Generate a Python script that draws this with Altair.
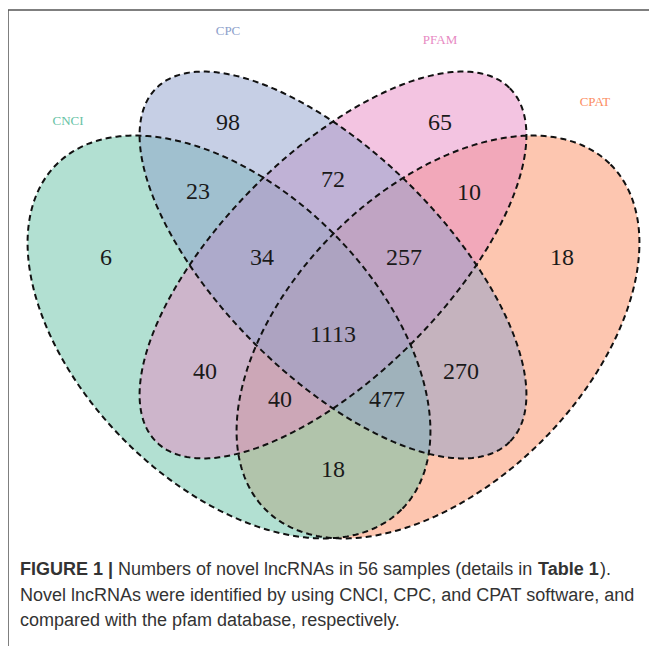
import numpy as np
import pandas as pd
import altair as alt

# ---- data ----
set_names = ["CNCI", "CPC", "PFAM", "CPAT"]
set_colors = ["#66c2a5", "#8da0cb", "#e78ac3", "#fc8d62"]

region_counts = [98, 65, 23, 72, 10, 6, 34, 257, 18, 1113, 40, 270, 40, 477, 18]
region_sets = ["CPC", "PFAM", "CNCI&CPC", "CPC&PFAM", "PFAM&CPAT", "CNCI",
               "CNCI&CPC&PFAM", "CPC&PFAM&CPAT", "CPAT", "ALL", "CNCI&PFAM",
               "CPC&CPAT", "CNCI&PFAM&CPAT", "CNCI&CPC&CPAT", "CNCI&CPAT"]

caption_lines = [
    [("FIGURE 1 |", "bold"), ("Numbers of novel lncRNAs in 56 samples (details in", "normal"),
     ("Table 1", "bold"), (").", "normal")],
    [("Novel lncRNAs were identified by using CNCI, CPC, and CPAT software, and", "normal")],
    [("compared with the pfam database, respectively.", "normal")],
]

# ---- layout (pixel positions of the diagram) ----
ellipse_cx = [229, 333, 333, 438]
ellipse_cy = [337, 265, 265, 337]
ellipse_a = [244, 250, 250, 244]
ellipse_b = [147, 111, 111, 147]
ellipse_rot = [45, 45, -45, -45]
draw_order = ["CPAT", "CNCI", "PFAM", "CPC"]

region_x = [228, 440, 198, 333, 469, 106, 262, 404, 562, 333, 205, 461, 280, 387, 333]
region_y = [123, 123, 192, 180, 193, 258, 258, 258, 258, 335, 372, 372, 400, 400, 470]

label_x = [68, 228, 440, 595]
label_y = [121, 31, 40, 102]

caption_x = [[20, 118, 538, 600], [20], [20]]
caption_y = [570, 596, 621]


def ellipse_df(i):
    t = np.linspace(0, 2 * np.pi, 361)
    th = np.deg2rad(ellipse_rot[i])
    a, b = ellipse_a[i], ellipse_b[i]
    x = ellipse_cx[i] + a * np.cos(t) * np.cos(th) - b * np.sin(t) * np.sin(th)
    y = ellipse_cy[i] + a * np.cos(t) * np.sin(th) + b * np.sin(t) * np.cos(th)
    return pd.DataFrame({"x": x, "y": y, "o": np.arange(len(t)), "set": set_names[i]})


W, H = 641, 638
xs = alt.Scale(domain=[8, 8 + W])
ys = alt.Scale(domain=[8, 8 + H], reverse=True)
X = lambda: alt.X("x:Q", scale=xs, axis=None)
Y = lambda: alt.Y("y:Q", scale=ys, axis=None)

layers = []
for name in draw_order:
    i = set_names.index(name)
    layers.append(
        alt.Chart(ellipse_df(i)).mark_line(
            filled=True, fill=set_colors[i], fillOpacity=0.5, strokeOpacity=0
        ).encode(x=X(), y=Y(), order="o:Q")
    )
for i in range(4):
    layers.append(
        alt.Chart(ellipse_df(i)).mark_line(
            stroke="#111111", strokeWidth=2, strokeDash=[6, 4]
        ).encode(x=X(), y=Y(), order="o:Q")
    )

reg_df = pd.DataFrame({"x": region_x, "y": region_y,
                       "count": [str(c) for c in region_counts], "region": region_sets})
layers.append(
    alt.Chart(reg_df).mark_text(font="Liberation Serif", fontSize=24, color="#1a1a1a",
                                baseline="middle", align="center")
    .encode(x=X(), y=Y(), text="count:N")
)

lab_df = pd.DataFrame({"x": label_x, "y": label_y, "set": set_names})
layers.append(
    alt.Chart(lab_df).mark_text(font="Liberation Serif", fontSize=13,
                                baseline="middle", align="center")
    .encode(x=X(), y=Y(), text="set:N",
            color=alt.Color("set:N", scale=alt.Scale(domain=set_names, range=set_colors),
                            legend=None))
)

rows = []
for li, line in enumerate(caption_lines):
    for si, (txt, wt) in enumerate(line):
        rows.append({"x": caption_x[li][si], "y": caption_y[li], "t": txt, "w": wt})
cap_df = pd.DataFrame(rows)
for wt in ["bold", "normal"]:
    layers.append(
        alt.Chart(cap_df[cap_df.w == wt]).mark_text(
            font="Liberation Sans", fontSize=18, color="#333333", fontWeight=wt,
            align="left", baseline="middle"
        ).encode(x=X(), y=Y(), text="t:N")
    )

# frame
layers.append(
    alt.Chart(pd.DataFrame({"k": [0]})).mark_rule(color="#555555", strokeWidth=1.5)
    .encode(x=alt.value(0), x2=alt.value(700), y=alt.value(2))
)
layers.append(
    alt.Chart(pd.DataFrame({"k": [0]})).mark_rule(color="#555555", strokeWidth=1.5)
    .encode(x=alt.value(0), y=alt.value(2), y2=alt.value(700))
)

chart = alt.layer(*layers).properties(
    width=W, height=H, padding=0, autosize=alt.AutoSizeParams(type="none")
).configure_view(stroke=None)

chart.save("out.html", embed_options={"renderer": "svg", "actions": False})
